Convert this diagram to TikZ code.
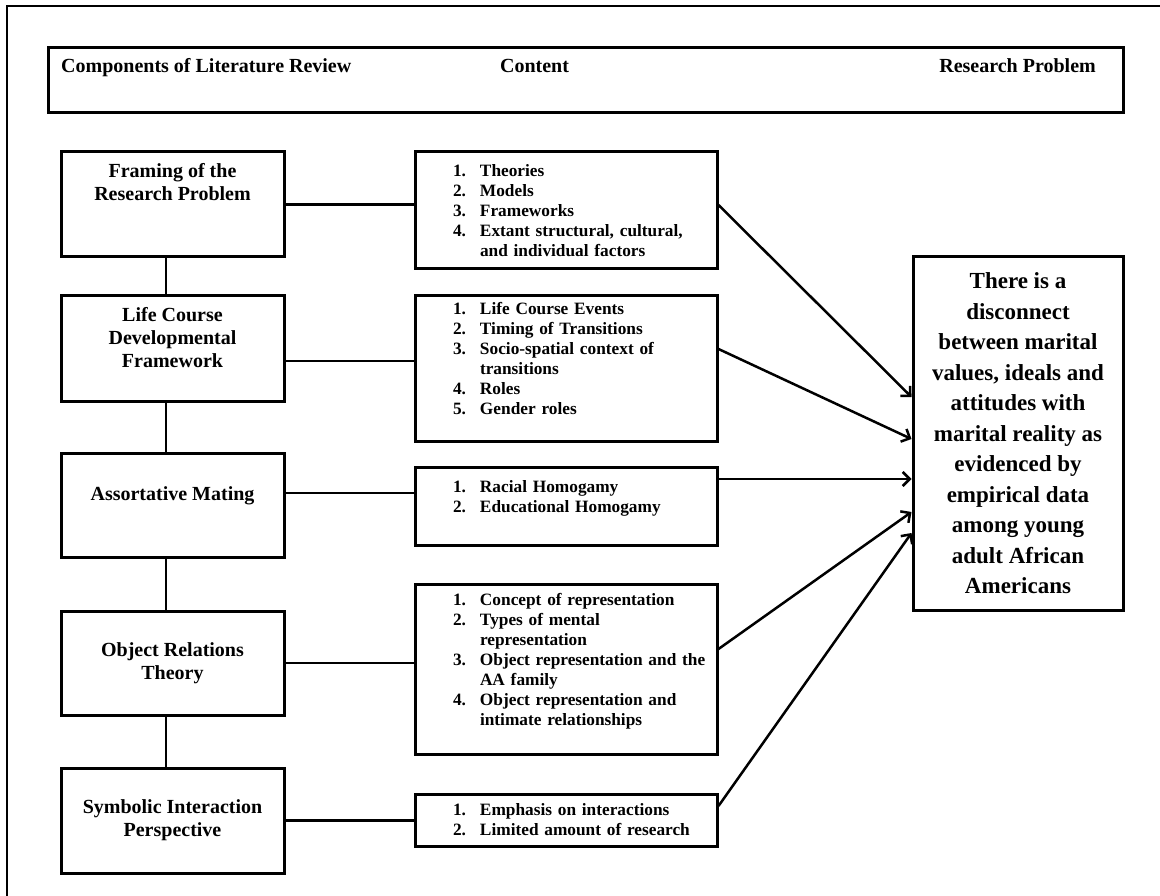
\documentclass[tikz,border=0pt]{standalone}
\usepackage{fontspec}
\setmainfont{Liberation Serif}
\usetikzlibrary{arrows.meta}

% numbered line and continuation line of a content list
\newcommand{\li}[2]{\hspace*{32pt}\makebox[27pt][l]{#1}#2}
\newcommand{\lc}[1]{\hspace*{59pt}#1}

\begin{document}
\begin{tikzpicture}[x=1pt, y=-1pt,
		comp/.style={draw, line width=3pt, minimum width=223pt, minimum height=105pt, inner sep=0pt, align=center, font=\fontsize{20}{23}\selectfont\bfseries},
		cont/.style={draw, line width=3pt, minimum width=302pt, text width=290pt, inner xsep=6pt, inner ysep=0pt, align=left, font=\fontsize{17.3}{20}\selectfont\bfseries},
		hd/.style={inner sep=0pt, font=\fontsize{20}{23}\selectfont\bfseries},
		con/.style={line width=2.5pt},
		arr/.style={line width=2.5pt, -{Straight Barb[length=7pt,width=14pt]}}]
			\useasboundingbox (0,0) rectangle (1160,896);
			\clip (0,0) rectangle (1160,896);
			\draw[line width=2pt] (7,6) rectangle (1175,910);
			
			% Header
			\node[draw, line width=3pt, minimum width=1075pt, minimum height=65pt] (hdr) at (585.5,80.5) {};
			\node[hd, anchor=base west] (h1) at (61,73) {Components of Literature Review};
			\node[hd, anchor=base] (h2) at (534.5,73) {Content};
			\node[hd, anchor=base east] (h3) at (1096,73) {Research Problem};
			
			% Components of literature review
			\node[comp] (comp1) at (172.5,204.5) {Framing of the\\Research Problem\\\mbox{}\\\mbox{}};
			\node[comp] (comp2) at (172.5,348.5) {Life Course\\Developmental\\Framework\\\mbox{}};
			\node[comp, minimum height=104pt] (comp3) at (172.5,505) {Assortative Mating\\\mbox{}};
			\node[comp, minimum height=104pt] (comp4) at (172.5,663) {Object Relations\\Theory};
			\node[comp] (comp5) at (172.5,820.5) {Symbolic Interaction\\Perspective};
			\draw[con] ([xshift=-6.5pt]comp1.south) -- ([xshift=-6.5pt]comp2.north);
			\draw[con] ([xshift=-6.5pt]comp2.south) -- ([xshift=-6.5pt]comp3.north);
			\draw[con] ([xshift=-6.5pt]comp3.south) -- ([xshift=-6.5pt]comp4.north);
			\draw[con] ([xshift=-6.5pt]comp4.south) -- ([xshift=-6.5pt]comp5.north);
			
			% Content
			\node[cont, minimum height=117pt] (cont1) at (566,210.5) {
				\li{1.}{Theories}\\
				\li{2.}{Models}\\
				\li{3.}{Frameworks}\\
				\li{4.}{Extant structural, cultural,}\\
				\lc{and individual factors}};
			\node[cont, minimum height=145pt] (cont2) at (566,368.5) {
				\li{1.}{Life Course Events}\\
				\li{2.}{Timing of Transitions}\\
				\li{3.}{Socio-spatial context of}\\
				\lc{transitions}\\
				\li{4.}{Roles}\\
				\li{5.}{Gender roles}\\
				\mbox{}};
			\node[cont, minimum height=78pt] (cont3) at (566,506) {
				\li{1.}{Racial Homogamy}\\
				\li{2.}{Educational Homogamy}\\
				\mbox{}};
			\node[cont, minimum height=170pt] (cont4) at (566,669.5) {
				\li{1.}{Concept of representation}\\
				\li{2.}{Types of mental}\\
				\lc{representation}\\
				\li{3.}{Object representation and the}\\
				\lc{AA family}\\
				\li{4.}{Object representation and}\\
				\lc{intimate relationships}\\
				\mbox{}};
			\node[cont, minimum height=52pt] (cont5) at (566,820) {
				\li{1.}{Emphasis on interactions}\\
				\li{2.}{Limited amount of research}};
			\draw[con] (comp1.east) -- (comp1.east -| cont1.west);
			\draw[con] ([yshift=-12.5pt]comp2.east) -- ([yshift=-12.5pt]comp2.east -| cont2.west);
			\draw[con] ([yshift=12pt]comp3.east) -- ([yshift=12pt]comp3.east -| cont3.west);
			\draw[con] (comp4.east) -- (comp4.east -| cont4.west);
			\draw[con] (comp5.east) -- (comp5.east -| cont5.west);
			
			% Research problem
			\node[draw, line width=3pt, minimum width=210pt, minimum height=353pt, inner sep=0pt, align=center, font=\fontsize{23}{30.5}\selectfont\bfseries] (rp) at (1018,433.5) {There is a\\disconnect\\between marital\\values, ideals and\\attitudes with\\marital reality as\\evidenced by\\empirical data\\among young\\adult African\\Americans};
			\draw[arr] ([yshift=5.5pt]cont1.east) -- ([yshift=36.5pt]rp.west);
			\draw[arr] ([yshift=19.5pt]cont2.east) -- ([yshift=-5.5pt]rp.west);
			\draw[arr] ([yshift=27pt]cont3.east) -- ([yshift=27pt]cont3.east -| rp.west);
			\draw[arr] ([yshift=20.5pt]cont4.east) -- ([yshift=-78.5pt]rp.west);
			\draw[arr] ([yshift=14pt]cont5.east) -- ([yshift=-99.5pt]rp.west);
\end{tikzpicture}
\end{document}
